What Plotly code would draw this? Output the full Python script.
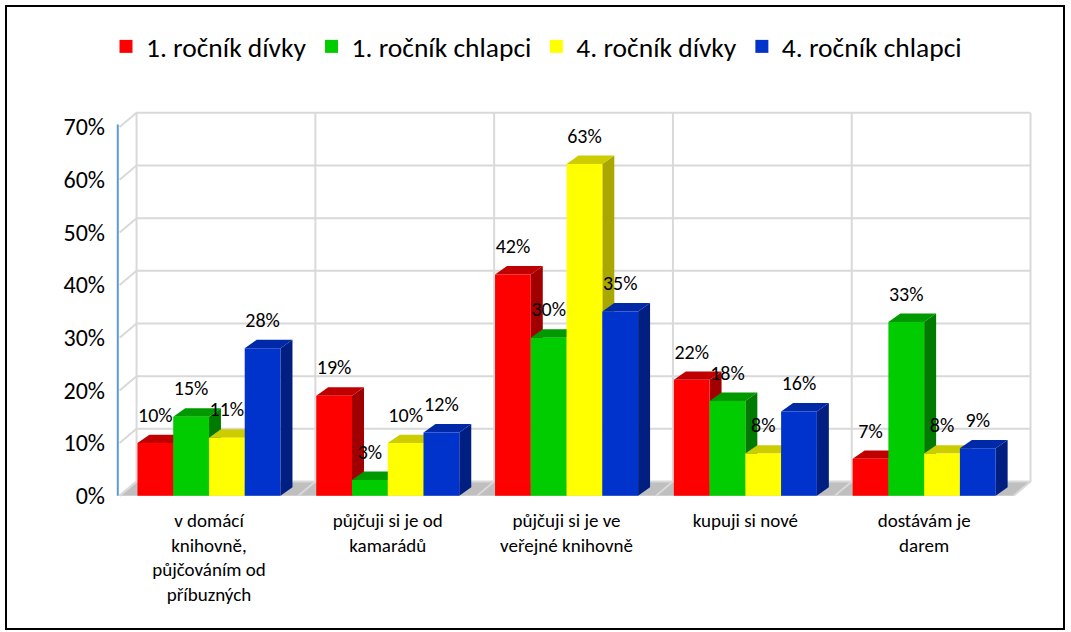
import plotly.graph_objects as go

# data
categories = [
    "v domácí<br>knihovně,<br>půjčováním od<br>příbuzných",
    "půjčuji si je od<br>kamarádů",
    "půjčuji si je ve<br>veřejné knihovně",
    "kupuji si nové",
    "dostávám je<br>darem",
]
series_names = ["1. ročník dívky", "1. ročník chlapci", "4. ročník dívky", "4. ročník chlapci"]
divky_1 = [10, 19, 42, 22, 7]
chlapci_1 = [15, 3, 30, 18, 33]
divky_4 = [11, 10, 63, 8, 8]
chlapci_4 = [28, 12, 35, 16, 9]
y_ticks = [0, 10, 20, 30, 40, 50, 60, 70]
y_tick_labels = [f"{t}%" for t in y_ticks]

series = [divky_1, chlapci_1, divky_4, chlapci_4]

front_colors = ["#FF0000", "#00CC00", "#FFFF00", "#0033CC"]
top_colors = ["#C00000", "#009900", "#CCCC00", "#0029A8"]
side_colors = ["#A00000", "#007A00", "#A8A800", "#001F80"]

FONT = "Calibri, Carlito, Lato, 'Open Sans', sans-serif"

# fake 3d geometry (in axis units)
BAR_W = 0.2
DX_BAR, DY_BAR = 0.067, 1.6
DX_WALL, DY_WALL = 0.095, 2.7

fig = go.Figure()

# floor
fig.add_trace(go.Scatter(
    x=[-0.5, 4.5, 4.5 + DX_WALL, -0.5 + DX_WALL, -0.5],
    y=[0, 0, DY_WALL, DY_WALL, 0],
    fill="toself", fillcolor="#BFBFBF", mode="lines", line_width=0,
    hoverinfo="skip", showlegend=False))

# back wall grid
gx, gy = [], []
for t in y_ticks:
    gx += [-0.5, -0.5 + DX_WALL, 4.5 + DX_WALL, None]
    gy += [t, t + DY_WALL, t + DY_WALL, None]
for b in range(len(categories) + 1):
    xb = b - 0.5
    gx += [xb, xb + DX_WALL, xb + DX_WALL, None]
    gy += [0, DY_WALL, y_ticks[-1] + DY_WALL, None]
fig.add_trace(go.Scatter(x=gx, y=gy, mode="lines", line=dict(color="#D9D9D9", width=2),
                         hoverinfo="skip", showlegend=False))

# value axis line
fig.add_trace(go.Scatter(x=[-0.51, -0.51], y=[0, y_ticks[-1] + 0.5], mode="lines",
                         line=dict(color="#5B9BD5", width=2), hoverinfo="skip", showlegend=False))

# bars: side, top, front per series (left to right keeps overlaps right)
lx, ly, lt = [], [], []
for s, vals in enumerate(series):
    off = (s - 1.5) * BAR_W
    sx, sy, tx, ty, fx, fy = [], [], [], [], [], []
    for i, v in enumerate(vals):
        x0 = i + off - BAR_W / 2
        x1 = x0 + BAR_W
        sx += [x1, x1, x1 + DX_BAR, x1 + DX_BAR, x1, None]
        sy += [0, v, v + DY_BAR, DY_BAR, 0, None]
        tx += [x0, x1, x1 + DX_BAR, x0 + DX_BAR, x0, None]
        ty += [v, v, v + DY_BAR, v + DY_BAR, v, None]
        fx += [x0, x1, x1, x0, x0, None]
        fy += [0, 0, v, v, 0, None]
        lx.append(i + off)
        ly.append(v + 5)
        lt.append(f"{v}%")
    for xs, ys, col in [(sx, sy, side_colors[s]), (tx, ty, top_colors[s]), (fx, fy, front_colors[s])]:
        fig.add_trace(go.Scatter(x=xs, y=ys, fill="toself", fillcolor=col, mode="lines",
                                 line_width=0, hoverinfo="skip", showlegend=False))

# data labels
fig.add_trace(go.Scatter(x=lx, y=ly, text=lt, mode="text", textposition="middle center",
                         textfont=dict(size=20, color="black", family=FONT),
                         hoverinfo="skip", showlegend=False))

# legend entries
for name, col in zip(series_names, front_colors):
    fig.add_trace(go.Scatter(x=[None], y=[None], mode="markers", name=name,
                             marker=dict(symbol="square", size=13, color=col)))

L, W, T, H = 116, 919, 106, 395
fig.update_layout(
    width=1071, height=632, autosize=False,
    margin=dict(l=L, r=1071 - L - W, t=T, b=632 - T - H),
    paper_bgcolor="white", plot_bgcolor="white",
    font=dict(family=FONT, color="black"),
    showlegend=True,
    legend=dict(orientation="h", x=(106 - L) / W, y=1 + (T - 22) / H, xanchor="left", yanchor="top",
                font=dict(size=27.5), itemwidth=30, traceorder="normal"),
    xaxis=dict(range=[-0.52, 4.62], showgrid=False, zeroline=False, showline=False,
               tickvals=list(range(len(categories))), ticktext=categories,
               tickfont=dict(size=19), ticks="", ticklabelstandoff=6, fixedrange=True),
    yaxis=dict(range=[-1, 74], showgrid=False, zeroline=False, showline=False,
               tickvals=y_ticks, ticktext=y_tick_labels, tickfont=dict(size=24), ticks="",
               ticklabelstandoff=10, fixedrange=True),
    shapes=[dict(type="rect", xref="paper", yref="paper",
                 x0=(6 - L) / W, x1=(1064 - L) / W,
                 y0=(T + H - 629) / H, y1=(T + H - 6) / H,
                 line=dict(color="black", width=2), fillcolor="rgba(0,0,0,0)")],
)

fig.write_html("out.html", config={"displayModeBar": False},
               post_script="document.body.style.margin='0';")
